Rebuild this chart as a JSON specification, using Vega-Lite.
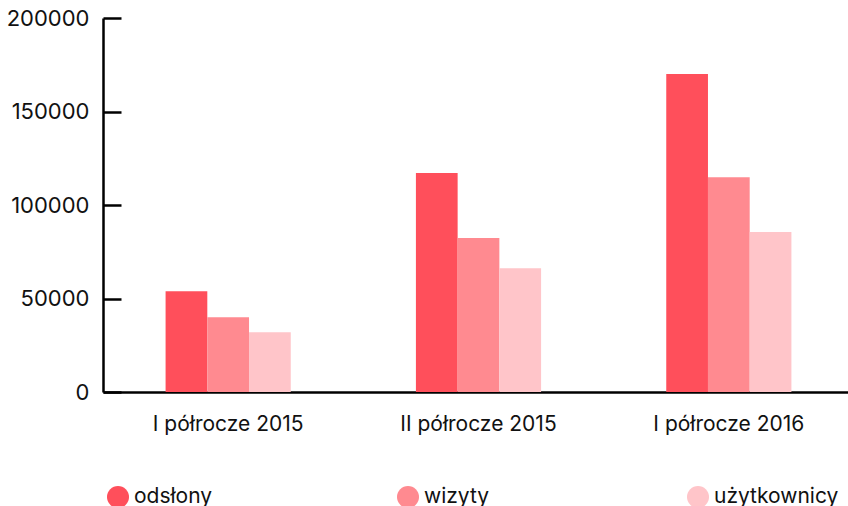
{
  "$schema": "https://vega.github.io/schema/vega-lite/v6.json",
  "autosize": {"type": "none"},
  "padding": {"left": 103, "top": 18, "right": 0, "bottom": 114},
  "width": 751,
  "height": 374,
  "background": "white",
  "config": {
    "view": {"stroke": null},
    "font": "Inter"
  },
  "data": {
    "values": [
      {"okres": "I półrocze 2015", "seria": "odsłony", "wartosc": 53900},
      {"okres": "I półrocze 2015", "seria": "wizyty", "wartosc": 40000},
      {"okres": "I półrocze 2015", "seria": "użytkownicy", "wartosc": 32000},
      {"okres": "II półrocze 2015", "seria": "odsłony", "wartosc": 117100},
      {"okres": "II półrocze 2015", "seria": "wizyty", "wartosc": 82300},
      {"okres": "II półrocze 2015", "seria": "użytkownicy", "wartosc": 66200},
      {"okres": "I półrocze 2016", "seria": "odsłony", "wartosc": 170100},
      {"okres": "I półrocze 2016", "seria": "wizyty", "wartosc": 114900},
      {"okres": "I półrocze 2016", "seria": "użytkownicy", "wartosc": 85500}
    ]
  },
  "mark": {"type": "bar"},
  "encoding": {
    "x": {
      "field": "okres",
      "type": "nominal",
      "sort": ["I półrocze 2015", "II półrocze 2015", "I półrocze 2016"],
      "scale": {"paddingInner": 0.5, "paddingOuter": 0.25},
      "axis": {
        "title": null,
        "labelAngle": 0,
        "ticks": false,
        "domainColor": "#000000",
        "domainWidth": 2.5,
        "labelFontSize": 21,
        "labelColor": "#111111",
        "labelPadding": 21,
        "labelFont": "Inter"
      }
    },
    "xOffset": {
      "field": "seria",
      "type": "nominal",
      "sort": ["odsłony", "wizyty", "użytkownicy"],
      "scale": {"paddingInner": 0, "paddingOuter": 0}
    },
    "y": {
      "field": "wartosc",
      "type": "quantitative",
      "scale": {"domain": [0, 200000], "nice": false},
      "axis": {
        "title": null,
        "values": [0, 50000, 100000, 150000, 200000],
        "format": "d",
        "grid": false,
        "domainColor": "#000000",
        "domainWidth": 2.5,
        "tickColor": "#000000",
        "tickWidth": 2.5,
        "tickSize": -18,
        "labelFontSize": 22,
        "labelColor": "#111111",
        "labelPadding": 32,
        "labelFont": "Inter"
      }
    },
    "color": {
      "field": "seria",
      "type": "nominal",
      "scale": {
        "domain": ["odsłony", "wizyty", "użytkownicy"],
        "range": ["#ff4f5b", "#ff8a90", "#ffc5c9"]
      },
      "legend": {
        "title": null,
        "orient": "none",
        "direction": "horizontal",
        "columns": 3,
        "gridAlign": "all",
        "columnPadding": 138,
        "legendX": 4,
        "legendY": 468,
        "padding": 0,
        "symbolType": "circle",
        "symbolSize": 484,
        "symbolStrokeWidth": 0,
        "symbolOpacity": 1,
        "labelFontSize": 21,
        "labelColor": "#111111",
        "labelOffset": 5,
        "labelFont": "Inter",
        "labelLimit": 300
      }
    }
  }
}
